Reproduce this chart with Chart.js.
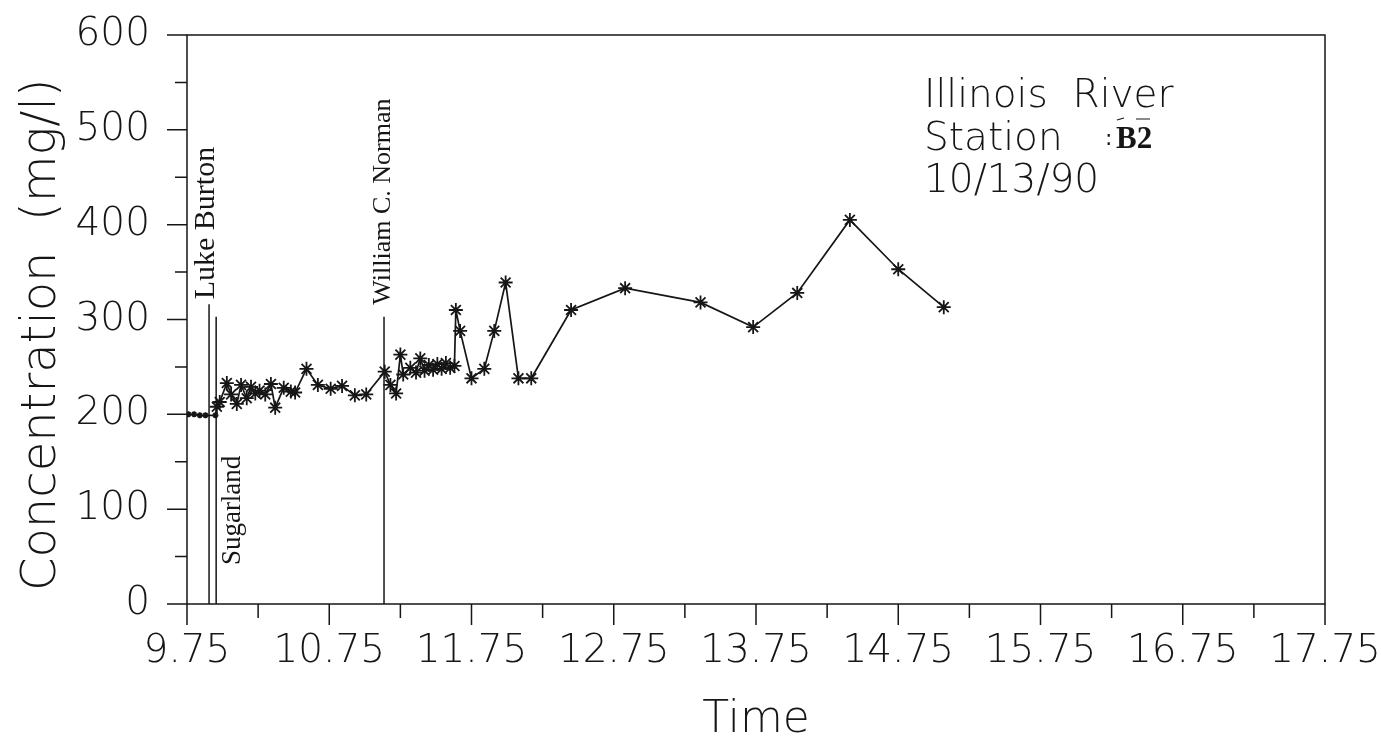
<!DOCTYPE html>
<html>
<head>
<meta charset="utf-8">
<script src="https://cdn.jsdelivr.net/npm/chart.js@4.4.1/dist/chart.umd.min.js"></script>
<style>
  html, body { margin: 0; padding: 0; background: #fff; }
  canvas { display: block; }
</style>
</head>
<body>
<canvas id="chart" width="1381" height="747"></canvas>
<script>
// values
const times = [9.76, 9.80, 9.84, 9.88, 9.95, 9.96, 9.98, 10.03, 10.06, 10.10, 10.13, 10.17, 10.20, 10.23, 10.26,
  10.30, 10.34, 10.37, 10.43, 10.48, 10.51, 10.59, 10.67, 10.76, 10.84, 10.93, 11.01, 11.14, 11.18, 11.22,
  11.25, 11.27, 11.32, 11.36, 11.39, 11.42, 11.45, 11.48, 11.51, 11.54, 11.57, 11.60, 11.63, 11.64, 11.67,
  11.75, 11.84, 11.91, 11.99, 12.08, 12.17, 12.45, 12.83, 13.36, 13.73, 14.04, 14.41, 14.75, 15.07];
const conc = [200, 200, 199, 199, 199, 208, 213, 233, 221, 211, 231, 217, 229, 222, 225,
  221, 232, 207, 228, 224, 223, 248, 231, 227, 230, 220, 221, 245, 231, 222,
  263, 242, 249, 244, 259, 246, 252, 247, 253, 248, 254, 249, 251, 310, 288,
  238, 248, 288, 339, 238, 238, 310, 333, 318, 292, 328, 405, 353, 313];

// dam releases marked on the plot
const eventNames = ['Luke Burton', 'Sugarland', 'William C. Norman'];
const eventTimes = [9.905, 9.955, 11.135];
const eventTops = [316, 303, 303];

const xTicks = [9.75, 10.75, 11.75, 12.75, 13.75, 14.75, 15.75, 16.75, 17.75];
const yTicks = [0, 100, 200, 300, 400, 500, 600];
const noteLines = ['Illinois  River', 'Station', '10/13/90'];

const INK = '#161616';
const SANS = '"DejaVu Sans", sans-serif';

const datasets = [{
  data: times.map((t, i) => ({ x: t, y: conc[i] })),
  borderColor: INK,
  borderWidth: 1.7,
  pointStyle: 'star',
  pointRadius: ctx => ctx.dataIndex < 5 ? 3 : 7,
  pointBorderColor: INK,
  pointBorderWidth: 1.8,
  tension: 0
}];
eventTimes.forEach((t, i) => {
  datasets.push({
    data: [{ x: t, y: 0 }, { x: t, y: eventTops[i] }],
    borderColor: INK,
    borderWidth: 1.5,
    pointRadius: 0
  });
});

const decorations = {
  id: 'decorations',
  afterDraw(chart) {
    const ctx = chart.ctx;
    const area = chart.chartArea;
    const x = chart.scales.x, y = chart.scales.y;
    ctx.save();
    ctx.strokeStyle = INK;
    ctx.fillStyle = INK;
    ctx.lineWidth = 1.5;

    // frame round the plot
    ctx.strokeRect(area.left, area.top, area.right - area.left, area.bottom - area.top);

    // tick marks, long on the labelled values and short halfway between
    ctx.beginPath();
    yTicks.forEach(v => {
      const py = y.getPixelForValue(v);
      ctx.moveTo(area.left - 20, py); ctx.lineTo(area.left, py);
      if (v < 600) {
        const pm = y.getPixelForValue(v + 50);
        ctx.moveTo(area.left - 12, pm); ctx.lineTo(area.left, pm);
      }
    });
    xTicks.forEach(v => {
      const px = x.getPixelForValue(v);
      ctx.moveTo(px, area.bottom); ctx.lineTo(px, area.bottom + 21);
      if (v < 17.75) {
        const pm = x.getPixelForValue(v + 0.5);
        ctx.moveTo(pm, area.bottom); ctx.lineTo(pm, area.bottom + 14);
      }
    });
    ctx.stroke();

    // vertical labels by the release lines
    ctx.textAlign = 'left';
    ctx.textBaseline = 'middle';
    const sizes = [30, 27, 26];
    const spots = [
      [x.getPixelForValue(eventTimes[0]) - 3, y.getPixelForValue(eventTops[0]) - 5],
      [x.getPixelForValue(eventTimes[1]) + 17, y.getPixelForValue(41)],
      [x.getPixelForValue(eventTimes[2]) - 1, y.getPixelForValue(eventTops[2]) - 12]
    ];
    eventNames.forEach((name, i) => {
      ctx.save();
      ctx.font = sizes[i] + 'px "Liberation Serif", serif';
      ctx.translate(spots[i][0], spots[i][1]);
      ctx.rotate(-Math.PI / 2);
      ctx.fillText(name, 0, 0);
      ctx.restore();
    });

    // station note, top right
    ctx.textBaseline = 'alphabetic';
    ctx.font = '200 39px ' + SANS;
    const left = 924;
    ctx.fillText(noteLines[0], left, 107);
    ctx.fillText(noteLines[1], left, 150);
    ctx.fillText(noteLines[2], left, 192);
    ctx.font = '22px ' + SANS;
    ctx.fillText(':', 1105, 145);
    ctx.font = 'bold 31px "Liberation Serif", serif';
    ctx.fillText('B2', 1116, 148);
    ctx.beginPath();
    ctx.lineWidth = 1.2;
    ctx.moveTo(1136, 119); ctx.lineTo(1150, 119);
    ctx.moveTo(1117, 120); ctx.lineTo(1124, 118);
    ctx.stroke();
    ctx.restore();
  }
};

new Chart(document.getElementById('chart'), {
  type: 'line',
  data: { datasets: datasets },
  plugins: [decorations],
  options: {
    responsive: false,
    animation: false,
    layout: { padding: { top: 35, right: 56, left: 0, bottom: 0 } },
    plugins: { legend: { display: false }, tooltip: { enabled: false } },
    scales: {
      x: {
        type: 'linear',
        min: 9.75,
        max: 17.75,
        afterBuildTicks: s => { s.ticks = xTicks.map(v => ({ value: v })); },
        afterFit: s => { s.height = 143; s.paddingLeft = 0; s.paddingRight = 0; },
        grid: { display: false, drawTicks: false },
        border: { display: false },
        ticks: {
          callback: v => v.toFixed(2),
          autoSkip: false,
          maxRotation: 0,
          padding: 24,
          color: INK,
          font: { family: SANS, size: 39, weight: '200' }
        },
        title: {
          display: true,
          text: 'Time',
          color: INK,
          padding: { top: 0, bottom: 0 },
          font: { family: SANS, size: 44, weight: '200' }
        }
      },
      y: {
        min: 0,
        max: 600,
        afterBuildTicks: s => { s.ticks = yTicks.map(v => ({ value: v })); },
        afterFit: s => { s.width = 187; s.paddingTop = 0; s.paddingBottom = 0; },
        grid: { display: false, drawTicks: false },
        border: { display: false },
        ticks: {
          padding: 37,
          color: INK,
          font: { family: SANS, size: 39, weight: '200' }
        },
        title: {
          display: true,
          text: 'Concentration  (mg/l)  ',
          color: INK,
          padding: { top: 14, bottom: 0 },
          font: { family: SANS, size: 48, weight: '200' }
        }
      }
    }
  }
});
</script>
</body>
</html>
